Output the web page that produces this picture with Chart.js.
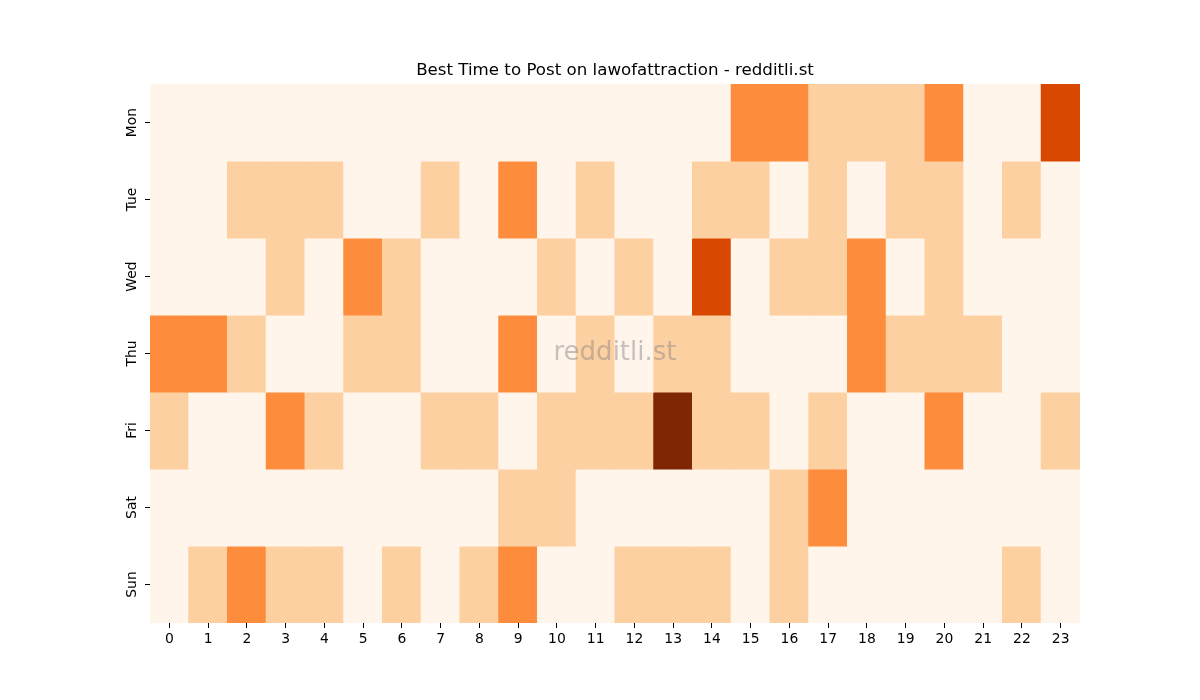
<!DOCTYPE html>
<html>
<head>
<meta charset="utf-8">
<script src="https://cdn.jsdelivr.net/npm/chart.js@4"></script>
<style>
  html, body { margin: 0; padding: 0; background: #ffffff; }
  #wrap { width: 1200px; height: 700px; }
</style>
</head>
<body>
<div id="wrap"><canvas id="c" width="1200" height="700"></canvas></div>
<script>
// ---- data ----
const hours = ['0','1','2','3','4','5','6','7','8','9','10','11','12','13','14','15','16','17','18','19','20','21','22','23'];
const days = ['Mon','Tue','Wed','Thu','Fri','Sat','Sun'];
const mon = [0,0,0,0,0,0,0,0,0,0,0,0,0,0,0,2,2,1,1,1,2,0,0,3];
const tue = [0,0,1,1,1,0,0,1,0,2,0,1,0,0,1,1,0,1,0,1,1,0,1,0];
const wed = [0,0,0,1,0,2,1,0,0,0,1,0,1,0,3,0,1,1,2,0,1,0,0,0];
const thu = [2,2,1,0,0,1,1,0,0,2,0,1,0,1,1,0,0,0,2,1,1,1,0,0];
const fri = [1,0,0,2,1,0,0,1,1,0,1,1,1,4,1,1,0,1,0,0,2,0,0,1];
const sat = [0,0,0,0,0,0,0,0,0,1,1,0,0,0,0,0,1,2,0,0,0,0,0,0];
const sun = [0,1,2,1,1,0,1,0,1,2,0,0,1,1,1,0,1,0,0,0,0,0,1,0];
const rows = [mon, tue, wed, thu, fri, sat, sun];
const maxValue = 4;
const titleText = 'Best Time to Post on lawofattraction - redditli.st';
const watermarkText = 'redditli.st';

// Oranges colormap stops
const cmapStops = [
  [0.00, [255,245,235]],
  [0.25, [253,208,162]],
  [0.50, [253,141,60]],
  [0.75, [217,72,1]],
  [1.00, [127,39,4]]
];
function cmap(t) {
  t = Math.max(0, Math.min(1, t));
  for (let i = 0; i < cmapStops.length - 1; i++) {
    const [t0, c0] = cmapStops[i], [t1, c1] = cmapStops[i+1];
    if (t <= t1) {
      const f = (t - t0) / (t1 - t0);
      const c = c0.map((v, k) => Math.round(v + (c1[k] - v) * f));
      return `rgb(${c[0]},${c[1]},${c[2]})`;
    }
  }
  const c = cmapStops[cmapStops.length-1][1];
  return `rgb(${c[0]},${c[1]},${c[2]})`;
}

const datasets = rows.map((vals, i) => ({
  label: days[i],
  data: hours.map(() => 1),
  backgroundColor: vals.map(v => cmap(v / maxValue)),
  borderWidth: 0,
  barPercentage: 1.0,
  categoryPercentage: 1.0,
  inflateAmount: 0.5
}));

const watermark = {
  id: 'watermark',
  afterDatasetsDraw(chart) {
    const {ctx, chartArea: a} = chart;
    ctx.save();
    ctx.font = '26px "DejaVu Sans"';
    ctx.fillStyle = 'rgba(128,128,128,0.45)';
    ctx.textAlign = 'center';
    ctx.textBaseline = 'middle';
    ctx.fillText(watermarkText, (a.left + a.right) / 2, (a.top + a.bottom) / 2);
    ctx.restore();
  }
};

new Chart(document.getElementById('c'), {
  type: 'bar',
  data: { labels: hours, datasets },
  plugins: [watermark],
  options: {
    responsive: false,
    animation: false,
    layout: { padding: { left: 30, right: 0, top: 61, bottom: 37 } },
    plugins: {
      legend: { display: false },
      tooltip: { enabled: false },
      title: {
        display: true,
        text: titleText,
        color: '#000000',
        font: { family: 'DejaVu Sans', size: 16.67, weight: 'normal' },
        padding: { top: 0, bottom: 3 }
      }
    },
    scales: {
      x: {
        type: 'category',
        stacked: true,
        offset: true,
        grid: { display: true, offset: false, drawOnChartArea: false, drawTicks: true, tickLength: 5, tickColor: '#000000', tickWidth: 1 },
        border: { display: false },
        ticks: { color: '#000000', font: { family: 'DejaVu Sans', size: 13.9 }, padding: 3, maxRotation: 0, minRotation: 0, autoSkip: false },
        afterFit(scale) { scale.height = 40; }
      },
      y: {
        type: 'linear',
        position: 'left',
        stacked: true,
        reverse: true,
        min: 0,
        max: 7,
        grid: { display: true, drawOnChartArea: false, drawTicks: true, tickLength: 5, tickColor: '#000000', tickWidth: 1 },
        border: { display: false },
        afterBuildTicks(scale) {
          scale.ticks = days.map((d, i) => ({ value: i + 0.5 }));
        },
        ticks: {
          color: '#000000',
          font: { family: 'DejaVu Sans', size: 13.9 },
          minRotation: 90,
          maxRotation: 90,
          crossAlign: 'center',
          padding: -3,
          callback(value) { return days[Math.floor(value)]; }
        },
        afterFit(scale) { scale.width = 120; }
      },
      yRight: {
        type: 'linear',
        position: 'right',
        display: true,
        grid: { display: false },
        border: { display: false },
        ticks: { display: false },
        afterFit(scale) { scale.width = 120; }
      }
    }
  }
});
</script>
</body>
</html>
